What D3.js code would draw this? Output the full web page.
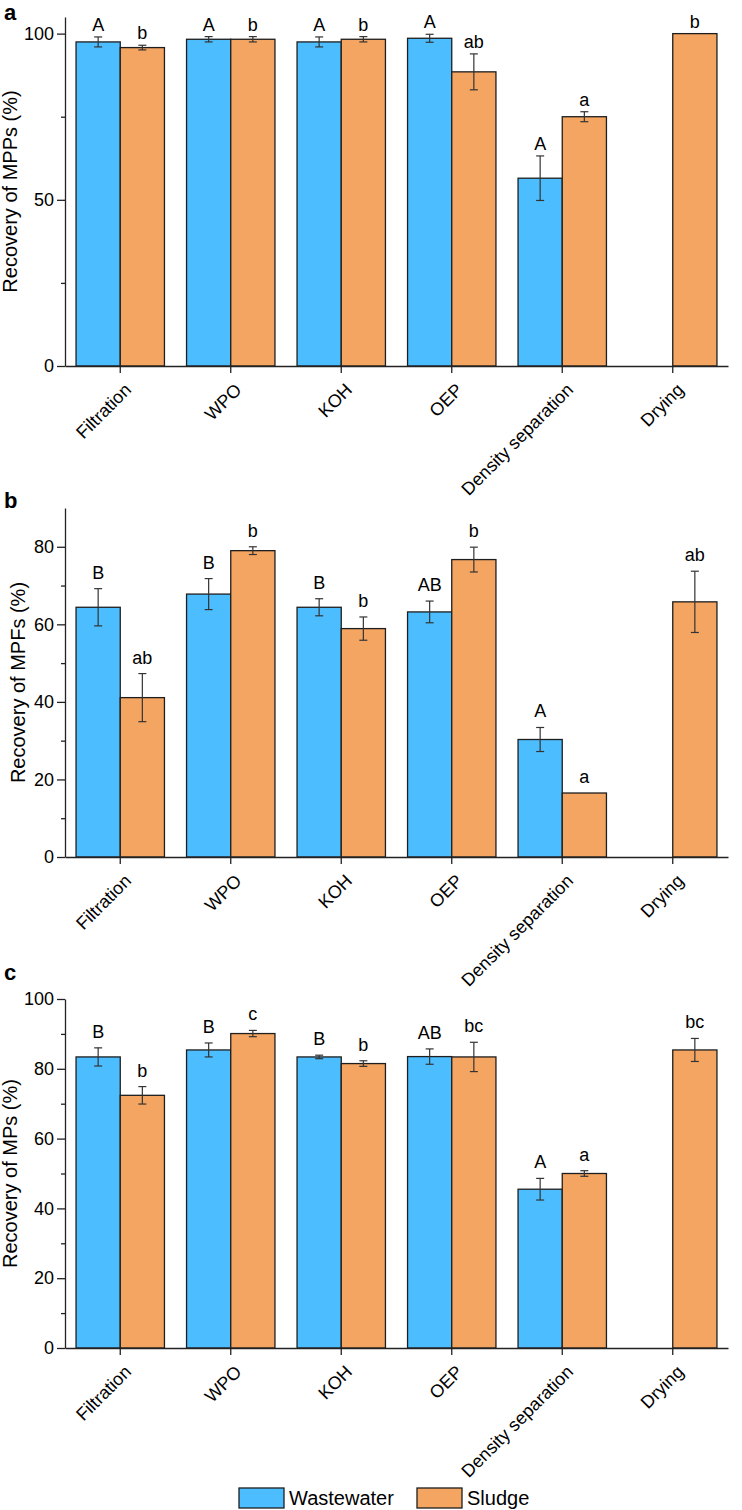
<!DOCTYPE html>
<html lang="en">
  <head>
    <meta charset="utf-8">
    <title>Recovery of MPPs, MPFs and MPs</title>
    <script src="https://d3js.org/d3.v7.min.js"></script>
    <style>
      body { margin: 0; background: #fff; }
      #chart text { font-family: "Liberation Sans", Arial, sans-serif; fill: #000; }
      .tick text { font-size: 18px; }
    </style>
  </head>
  <body>
    <div id="chart"></div>

    <script type="text/javascript">
      "use strict"
      // categories and series
      var categories = ['Filtration', 'WPO', 'KOH', 'OEP', 'Density separation', 'Drying'];
      var series = ['Wastewater', 'Sludge'];

      // panel a - MPPs
      var mppWastewater = [97.5, 98.3, 97.5, 98.6, 56.5, null];
      var mppWastewaterErr = [1.5, 0.8, 1.5, 1.2, 6.7, null];
      var mppSludge = [95.8, 98.3, 98.3, 88.5, 75.0, 100];
      var mppSludgeErr = [0.7, 0.8, 0.8, 5.4, 1.5, 0];
      var mppWastewaterLetters = ['A', 'A', 'A', 'A', 'A', ''];
      var mppSludgeLetters = ['b', 'b', 'b', 'ab', 'a', 'b'];

      // panel b - MPFs
      var mpfWastewater = [64.4, 67.8, 64.4, 63.2, 30.3, null];
      var mpfWastewaterErr = [4.8, 4.0, 2.2, 2.8, 3.1, null];
      var mpfSludge = [41.1, 79.0, 58.9, 76.7, 16.5, 65.8];
      var mpfSludgeErr = [6.2, 1.0, 3.0, 3.2, 0, 7.9];
      var mpfWastewaterLetters = ['B', 'B', 'B', 'AB', 'A', ''];
      var mpfSludgeLetters = ['ab', 'b', 'b', 'b', 'a', 'ab'];

      // panel c - MPs
      var mpWastewater = [83.4, 85.4, 83.4, 83.5, 45.5, null];
      var mpWastewaterErr = [2.6, 2.0, 0.5, 2.2, 3.1, null];
      var mpSludge = [72.4, 90.1, 81.5, 83.4, 50.0, 85.4];
      var mpSludgeErr = [2.5, 0.9, 0.8, 4.2, 0.8, 3.3];
      var mpWastewaterLetters = ['B', 'B', 'B', 'AB', 'A', ''];
      var mpSludgeLetters = ['b', 'c', 'b', 'bc', 'a', 'bc'];

      // y axis ticks
      var mppTicks = [0, 50, 100], mppMinor = [25, 75];
      var mpfTicks = [0, 20, 40, 60, 80], mpfMinor = [10, 30, 50, 70];
      var mpTicks = [0, 20, 40, 60, 80, 100], mpMinor = [10, 30, 50, 70, 90];

      var colors = {Wastewater: '#4cbdfe', Sludge: '#f4a562'};

      var panels = [
        {letter: 'a', label: 'Recovery of MPPs (%)', top: 17, letterY: 20, labelX: 17, yMax: 105, gap: 6,
         ticks: mppTicks, minor: mppMinor,
         values: [mppWastewater, mppSludge], errs: [mppWastewaterErr, mppSludgeErr],
         letters: [mppWastewaterLetters, mppSludgeLetters]},
        {letter: 'b', label: 'Recovery of MPFs (%)', top: 508, letterY: 508, labelX: 25, yMax: 90, gap: 10,
         ticks: mpfTicks, minor: mpfMinor,
         values: [mpfWastewater, mpfSludge], errs: [mpfWastewaterErr, mpfSludgeErr],
         letters: [mpfWastewaterLetters, mpfSludgeLetters]},
        {letter: 'c', label: 'Recovery of MPs (%)', top: 999, letterY: 980, labelX: 17, yMax: 100, gap: 10,
         ticks: mpTicks, minor: mpMinor,
         values: [mpWastewater, mpSludge], errs: [mpWastewaterErr, mpSludgeErr],
         letters: [mpWastewaterLetters, mpSludgeLetters]}
      ];

      var larguraSVG = 742, alturaSVG = 1510;
      var left = 65, right = 728, alturaVis = 349;

      var svg = d3.select('#chart')
        .append('svg')
          .attr('width', larguraSVG)
          .attr('height', alturaSVG);

      // escalas x (iguais nos tres paineis)
      var x = d3.scaleBand()
        .domain(categories)
        .range([left, right])
        .paddingInner(0.2)
        .paddingOuter(0.1);
      var xSerie = d3.scaleBand()
        .domain(series)
        .range([0, x.bandwidth()]);

      panels.forEach(function(p) {
        var g = svg.append('g');
        var base = p.top + alturaVis;
        var y = d3.scaleLinear()
          .domain([0, p.yMax])
          .range([base, p.top]);

        // linhas de dados
        var rows = [];
        series.forEach(function(s, si) {
          categories.forEach(function(c, ci) {
            if (p.values[si][ci] == null) return;
            rows.push({cat: c, serie: s, valor: p.values[si][ci], err: p.errs[si][ci], letra: p.letters[si][ci]});
          });
        });

        // barras
        g.selectAll('rect.bar')
          .data(rows)
          .enter()
            .append('rect')
              .attr('class', 'bar')
              .attr('x', d => x(d.cat) + xSerie(d.serie))
              .attr('width', xSerie.bandwidth())
              .attr('y', d => y(d.valor))
              .attr('height', d => base - y(d.valor))
              .attr('fill', d => colors[d.serie])
              .attr('stroke', '#1e1e1e')
              .attr('stroke-width', 1.3);

        // barras de erro
        var errRows = rows.filter(d => d.err > 0);
        var eg = g.selectAll('g.err')
          .data(errRows)
          .enter()
            .append('g')
              .attr('class', 'err')
              .attr('stroke', '#333')
              .attr('stroke-width', 1.2);
        var cx = d => x(d.cat) + xSerie(d.serie) + xSerie.bandwidth() / 2;
        eg.append('line')
          .attr('x1', cx).attr('x2', cx)
          .attr('y1', d => y(d.valor - d.err))
          .attr('y2', d => y(d.valor + d.err));
        eg.append('line')
          .attr('x1', d => cx(d) - 4).attr('x2', d => cx(d) + 4)
          .attr('y1', d => y(d.valor - d.err))
          .attr('y2', d => y(d.valor - d.err));
        eg.append('line')
          .attr('x1', d => cx(d) - 4).attr('x2', d => cx(d) + 4)
          .attr('y1', d => y(d.valor + d.err))
          .attr('y2', d => y(d.valor + d.err));

        // letras de significancia
        g.selectAll('text.sig')
          .data(rows.filter(d => d.letra))
          .enter()
            .append('text')
              .attr('class', 'sig')
              .attr('x', cx)
              .attr('y', d => y(d.valor + d.err) - p.gap)
              .attr('text-anchor', 'middle')
              .style('font-size', '18px')
              .text(d => d.letra);

        // eixo x
        var ax = g.append('g')
          .attr('transform', 'translate(0,' + base + ')')
          .call(d3.axisBottom(x).tickSizeInner(7).tickSizeOuter(0));
        ax.select('.domain').attr('stroke', '#222').attr('stroke-width', 1.3);
        ax.selectAll('.tick line').attr('stroke', '#222').attr('stroke-width', 1.3);
        ax.selectAll('.tick text')
          .attr('text-anchor', 'end')
          .attr('dy', 0)
          .attr('y', 0)
          .attr('transform', 'translate(12,25) rotate(-45)');

        // eixo y
        var ay = g.append('g')
          .attr('transform', 'translate(' + left + ',0)')
          .call(d3.axisLeft(y).tickValues(p.ticks).tickSizeInner(8).tickSizeOuter(0).tickPadding(3));
        ay.select('.domain').attr('stroke', '#222').attr('stroke-width', 1.3);
        ay.selectAll('.tick line').attr('stroke', '#222').attr('stroke-width', 1.3);
        var am = g.append('g')
          .attr('transform', 'translate(' + left + ',0)')
          .call(d3.axisLeft(y).tickValues(p.minor).tickSizeInner(4).tickSizeOuter(0).tickFormat(''));
        am.select('.domain').remove();
        am.selectAll('.tick line').attr('stroke', '#222').attr('stroke-width', 1.3);

        // titulo do eixo y
        g.append('text')
          .attr('transform', 'translate(' + p.labelX + ',' + (p.top + alturaVis / 2) + ') rotate(-90)')
          .attr('text-anchor', 'middle')
          .style('font-size', '20px')
          .text(p.label);

        // letra do painel
        g.append('text')
          .attr('x', 4)
          .attr('y', p.letterY)
          .style('font-size', '22px')
          .style('font-weight', 'bold')
          .text(p.letter);
      });

      // legenda
      var legendX = [239, 417];
      var leg = svg.selectAll('g.legend')
        .data(series)
        .enter()
          .append('g')
            .attr('class', 'legend')
            .attr('transform', (d, i) => 'translate(' + legendX[i] + ',1488)');
      leg.append('rect')
        .attr('width', 45)
        .attr('height', 20)
        .attr('fill', d => colors[d])
        .attr('stroke', '#1e1e1e')
        .attr('stroke-width', 1.3);
      leg.append('text')
        .attr('x', 50)
        .attr('y', 17)
        .style('font-size', '20px')
        .text(d => d);
    </script>
  </body>
</html>
